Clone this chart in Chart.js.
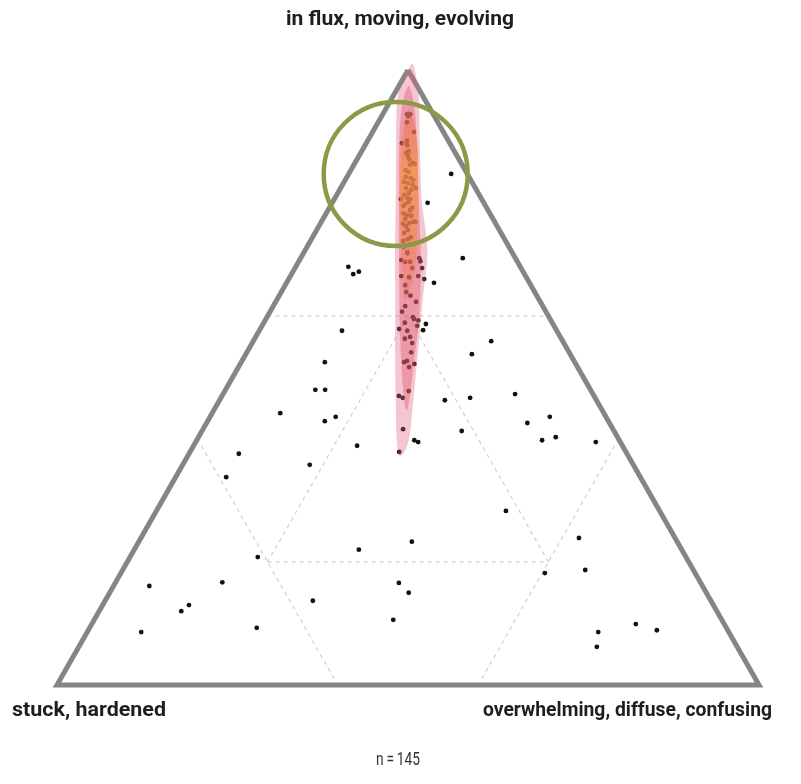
<!DOCTYPE html>
<html>
<head>
<meta charset="utf-8">
<script src="https://cdn.jsdelivr.net/npm/chart.js@4.4.1/dist/chart.umd.min.js"></script>
<style>
  html, body { margin: 0; padding: 0; background: #fff; }
</style>
</head>
<body>
<canvas id="triad" width="801" height="784"></canvas>
<script>
// corner labels: top, bottom left, bottom right
const cornerLabels = ["in flux, moving, evolving", "stuck, hardened", "overwhelming, diffuse, confusing"];
const sampleNote = "n\u2009=\u2009145";

// placement of each response, % towards each corner (rows add up to 100)
const fluxShare = [
  83.1, 78.4, 69.4, 65.4, 68.0, 66.8, 67.2, 57.6, 52.5, 48.0, 48.0, 44.2, 42.9, 43.6, 38.9, 37.6, 35.8, 33.8,
  55.9, 53.8, 47.3, 46.7, 46.3, 43.6, 42.6, 41.3, 39.8, 40.3, 39.5, 28.3, 23.9, 18.2, 18.7, 9.9, 8.6, 8.9, 6.2,
  20.8, 22.0, 16.1, 16.7, 13.0, 12.0, 13.7, 8.6, 9.3, 23.3, 16.6, 15.0, 10.6,
  70.2, 68.8, 69.1, 69.4, 68.9, 67.8, 66.5, 66.3, 66.5, 66.0, 65.0, 62.3, 61.6, 59.8, 59.5, 59.3, 58.9, 58.7,
  57.9, 57.6, 57.7, 56.6, 56.3, 55.6, 52.5, 52.7, 52.2, 51.7, 47.8, 47.0, 46.7, 41.6, 39.8, 39.5, 37.9,
  92.8, 92.8, 91.5, 89.9, 88.1, 88.5, 87.8, 86.5, 86.8, 85.5, 84.9, 84.7,
  84.6, 82.6, 82.4, 82.1, 81.8, 81.6, 80.8, 80.8, 80.5, 79.0, 79.2, 79.0, 78.5, 78.2, 77.6, 76.7, 76.4, 75.8,
  75.3, 75.1, 75.0, 75.3, 74.0, 73.5, 72.8, 72.5, 72.2, 70.4,
  92.5, 83.7, 83.4, 81.3, 80.0, 77.9, 77.2, 74.6, 71.7, 71.2, 67.8, 63.9, 63.3, 60.7, 58.4, 86.0, 79.7, 76.3,
  68.8, 54.1
];
const stuckShare = [
  2.3, 8.0, 7.5, 13.6, 24.5, 24.4, 23.4, 30.6, 35.6, 39.2, 37.8, 46.1, 40.4, 38.5, 37.8, 55.3, 46.1, 59.0,
  10.2, 14.0, 11.1, 17.8, 21.6, 8.0, 11.7, 21.7, 11.0, 8.8, 3.5, 21.9, 13.7, 21.4, 15.4, 12.6, 18.6, 10.1, 20.0,
  61.0, 46.0, 78.8, 68.1, 74.7, 76.3, 56.7, 83.7, 66.9, 37.8, 43.0, 42.4, 46.8,
  15.0, 15.3, 16.4, 13.7, 13.8, 14.1, 17.7, 16.7, 15.3, 14.7, 17.9, 17.7, 19.6, 19.4, 19.4, 18.9, 21.0, 18.1,
  22.3, 21.3, 19.0, 21.4, 22.3, 21.6, 24.3, 23.8, 23.0, 24.0, 26.0, 27.8, 27.4, 29.9, 29.2, 28.8, 32.3,
  3.7, 3.3, 4.4, 4.2, 6.8, 5.9, 6.2, 7.0, 6.5, 7.1, 6.9, 6.7,
  7.4, 9.0, 8.4, 8.2, 9.7, 9.2, 8.5, 9.9, 9.3, 11.5, 10.5, 10.2, 10.7, 11.3, 10.6, 12.3, 11.9, 12.5,
  11.6, 12.3, 13.2, 11.3, 13.0, 13.8, 13.2, 13.8, 14.6, 14.9,
  3.7, 8.5, 8.2, 8.7, 9.9, 11.7, 11.1, 13.0, 13.5, 15.0, 15.5, 18.3, 18.0, 20.5, 19.5, 7.0, 10.7, 11.4,
  16.0, 22.5
];
const overwhelmShare = [
  14.6, 13.6, 23.1, 21.0, 7.5, 8.8, 9.4, 11.8, 11.9, 12.8, 14.2, 9.7, 16.7, 17.9, 23.3, 7.1, 18.1, 7.2,
  33.9, 32.2, 41.6, 35.5, 32.1, 48.4, 45.7, 37.0, 49.2, 50.9, 57.0, 49.8, 62.4, 60.4, 65.9, 77.5, 72.8, 81.0, 73.8,
  18.2, 32.0, 5.1, 15.2, 12.3, 11.7, 29.6, 7.7, 23.8, 38.9, 40.4, 42.6, 42.6,
  14.8, 15.9, 14.5, 16.9, 17.3, 18.1, 15.8, 17.0, 18.2, 19.3, 17.1, 20.0, 18.8, 20.8, 21.1, 21.8, 20.1, 23.2,
  19.8, 21.1, 23.3, 22.0, 21.4, 22.8, 23.2, 23.5, 24.8, 24.3, 26.2, 25.2, 25.9, 28.5, 31.0, 31.7, 29.8,
  3.5, 3.9, 4.1, 5.9, 5.1, 5.6, 6.0, 6.5, 6.7, 7.4, 8.2, 8.6,
  8.0, 8.4, 9.2, 9.7, 8.5, 9.2, 10.7, 9.3, 10.2, 9.5, 10.3, 10.8, 10.8, 10.5, 11.8, 11.0, 11.7, 11.7,
  13.1, 12.6, 11.8, 13.4, 13.0, 12.7, 14.0, 13.7, 13.2, 14.7,
  3.8, 7.8, 8.4, 10.0, 10.1, 10.4, 11.7, 12.4, 14.8, 13.8, 16.7, 17.8, 18.7, 18.8, 22.1, 7.0, 9.6, 12.3,
  15.2, 23.4
];

// density contours of the responses, as [flux %, overwhelm %] outlines
const outerContour = [
  [101.0, 0.1], [98.0, 0.3], [95.1, 0.9], [87.0, 4.8], [78.9, 8.8], [70.7, 12.8], [62.6, 16.9], [54.5, 20.9],
  [46.3, 25.1], [39.8, 28.5], [37.2, 30.3], [39.8, 30.2], [46.3, 27.6], [54.5, 24.2], [62.6, 20.8],
  [70.7, 17.4], [78.9, 12.5], [87.0, 8.2], [95.1, 4.0], [98.0, 2.3]
];
const middleContour = [
  [97.4, 1.4], [93.5, 2.3], [85.4, 6.0], [75.6, 10.9], [65.9, 15.8], [57.7, 20.0], [51.2, 23.5], [46.3, 26.3],
  [44.7, 27.5], [47.2, 26.7], [52.8, 24.5], [59.3, 21.9], [67.5, 18.1], [77.2, 13.0], [87.0, 7.8], [93.5, 4.2]
];
const coreContour = [
  [93.6, 3.3], [88.6, 4.9], [80.5, 8.6], [72.4, 12.8], [66.7, 15.9], [62.6, 18.3], [66.7, 17.5], [72.4, 15.1],
  [80.5, 11.2], [88.6, 7.0]
];

// highlighted cluster: centre in % (flux, stuck, overwhelm)
const focusCentre = [83.1, 10.2, 6.7];

// grid: lines where one corner reaches 60 %, plus the central triangle at 20 %
const gridSegments = [
  [[60, 40, 0], [60, 0, 40]],
  [[40, 60, 0], [0, 60, 40]],
  [[40, 0, 60], [0, 40, 60]],
  [[60, 20, 20], [20, 60, 20]],
  [[20, 60, 20], [20, 20, 60]],
  [[20, 20, 60], [60, 20, 20]]
];

// ternary -> plane: x runs stuck(0) .. overwhelm(100), y is the flux share
function toXY(flux, stuck, over) {
  return { x: over + flux / 2, y: flux };
}

const responses = fluxShare.map((f, i) => toXY(f, stuckShare[i], overwhelmShare[i]));

const datasets = [];
datasets.push({
  label: "frame",
  data: [toXY(100, 0, 0), toXY(0, 100, 0), toXY(0, 0, 100), toXY(100, 0, 0)],
  showLine: true,
  borderColor: "#858585",
  borderWidth: 5,
  borderJoinStyle: "miter",
  pointRadius: 0,
  clip: false,
  order: 5
});
gridSegments.forEach(function (seg) {
  datasets.push({
    label: "grid",
    data: seg.map(p => toXY(p[0], p[1], p[2])),
    showLine: true,
    borderColor: "#cfcfcf",
    borderWidth: 1.2,
    borderDash: [4, 4],
    pointRadius: 0,
    clip: false,
    order: 6
  });
});
datasets.push({
  label: "responses",
  data: responses,
  pointRadius: 2.4,
  pointBackgroundColor: "#111",
  pointBorderWidth: 0,
  clip: false,
  order: 2
});
datasets.push({
  label: "focus",
  data: [toXY(focusCentre[0], focusCentre[1], focusCentre[2])],
  pointRadius: 72,
  pointBackgroundColor: "rgba(0,0,0,0)",
  pointBorderColor: "#8c9a48",
  pointBorderWidth: 4.5,
  clip: false,
  order: 1
});
const responsesIndex = datasets.findIndex(d => d.label === "responses");

// closed smooth outline through the contour vertices
function smoothOutline(ctx, pts) {
  const n = pts.length;
  ctx.beginPath();
  ctx.moveTo(pts[0].x, pts[0].y);
  for (let i = 0; i < n; i++) {
    const p0 = pts[(i - 1 + n) % n], p1 = pts[i], p2 = pts[(i + 1) % n], p3 = pts[(i + 2) % n];
    ctx.bezierCurveTo(
      p1.x + (p2.x - p0.x) / 6, p1.y + (p2.y - p0.y) / 6,
      p2.x - (p3.x - p1.x) / 6, p2.y - (p3.y - p1.y) / 6,
      p2.x, p2.y);
  }
  ctx.closePath();
}

const densityPlugin = {
  id: "density",
  afterDatasetDraw(chart, args) {
    if (args.index !== responsesIndex) return;
    const ctx = chart.ctx;
    const xs = chart.scales.x, ys = chart.scales.y;
    const px = c => {
      const p = toXY(c[0], 100 - c[0] - c[1], c[1]);
      return { x: xs.getPixelForValue(p.x), y: ys.getPixelForValue(p.y) };
    };
    ctx.save();
    smoothOutline(ctx, outerContour.map(px));
    ctx.fillStyle = "rgba(228,98,122,0.36)";
    ctx.fill();
    smoothOutline(ctx, middleContour.map(px));
    ctx.fillStyle = "rgba(224,80,100,0.38)";
    ctx.fill();
    const top = ys.getPixelForValue(95), bottom = ys.getPixelForValue(62);
    const grad = ctx.createLinearGradient(0, top, 0, bottom);
    grad.addColorStop(0, "rgba(232,100,80,0.4)");
    grad.addColorStop(0.35, "rgba(246,150,60,0.65)");
    grad.addColorStop(0.7, "rgba(244,135,70,0.55)");
    grad.addColorStop(1, "rgba(235,105,90,0.25)");
    smoothOutline(ctx, coreContour.map(px));
    ctx.fillStyle = grad;
    ctx.fill();
    ctx.restore();
  }
};

// text drawn at a fixed width so the condensed look carries over
function fittedText(ctx, text, font, x, y, width, align) {
  ctx.save();
  ctx.font = font;
  const w = ctx.measureText(text).width;
  const k = width / w;
  let left = x;
  if (align === "center") left = x - width / 2;
  if (align === "right") left = x - width;
  ctx.translate(left, y);
  ctx.scale(k, 1);
  ctx.textAlign = "left";
  ctx.textBaseline = "alphabetic";
  ctx.fillText(text, 0, 0);
  ctx.restore();
}

const labelPlugin = {
  id: "labels",
  afterDraw(chart) {
    const ctx = chart.ctx;
    ctx.fillStyle = "#1e1e1e";
    const bold = 'bold 21px Roboto, "Liberation Sans", sans-serif';
    fittedText(ctx, cornerLabels[0], bold, 400, 25, 228, "center");
    fittedText(ctx, cornerLabels[1], bold, 12, 716, 154, "left");
    fittedText(ctx, cornerLabels[2], bold, 772, 716, 289, "right");
    ctx.fillStyle = "#333";
    fittedText(ctx, sampleNote, '19px Roboto, "Liberation Sans", sans-serif', 398, 765, 44, "center");
  }
};

new Chart(document.getElementById("triad"), {
  type: "scatter",
  data: { datasets: datasets },
  options: {
    responsive: false,
    devicePixelRatio: 1,
    animation: false,
    events: [],
    layout: { autoPadding: false, padding: { left: 57, right: 42, top: 70, bottom: 99 } },
    scales: {
      x: { type: "linear", min: 0, max: 100, display: false },
      y: { type: "linear", min: 0, max: 100, display: false }
    },
    plugins: {
      legend: { display: false },
      tooltip: { enabled: false }
    }
  },
  plugins: [densityPlugin, labelPlugin]
});
</script>
</body>
</html>
